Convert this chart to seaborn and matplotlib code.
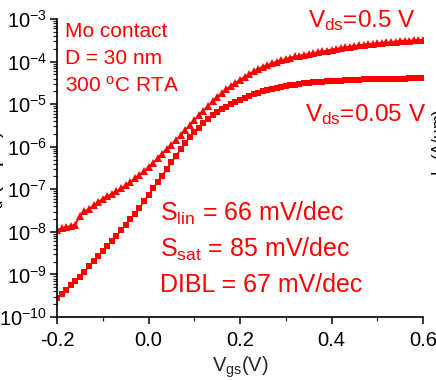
import numpy as np
import pandas as pd
import matplotlib
matplotlib.use("Agg")
import matplotlib.pyplot as plt
import matplotlib.ticker as mticker
import seaborn as sns

# ---- data ----
vgs = [round(-0.20 + 0.01 * i, 2) for i in range(81)]

# log10(I) for Vds = 0.5 V (triangles)
log_id_vds05 = [
    -7.95, -7.92, -7.89, -7.86, -7.83, -7.62, -7.52, -7.46, -7.38, -7.30,
    -7.22, -7.16, -7.10, -7.04, -6.98, -6.91, -6.83, -6.74, -6.66, -6.57,
    -6.48, -6.38, -6.27, -6.16, -6.05, -5.95, -5.85, -5.73, -5.61, -5.50,
    -5.38, -5.26, -5.15, -5.04, -4.93, -4.83, -4.74, -4.65, -4.57, -4.50,
    -4.43, -4.36, -4.29, -4.23, -4.17, -4.12, -4.08, -4.04, -4.00, -3.97,
    -3.94, -3.91, -3.88, -3.86, -3.84, -3.82, -3.80, -3.78, -3.76, -3.74,
    -3.72, -3.70, -3.68, -3.66, -3.65, -3.63, -3.62, -3.60, -3.59, -3.58,
    -3.57, -3.56, -3.55, -3.54, -3.53, -3.52, -3.51, -3.51, -3.50, -3.49,
    -3.49,
]

# log10(I) for Vds = 0.05 V (squares)
log_id_vds005 = [
    -9.55, -9.46, -9.36, -9.25, -9.15, -9.05, -8.94, -8.80, -8.68, -8.57,
    -8.44, -8.33, -8.22, -8.10, -7.96, -7.83, -7.70, -7.58, -7.45, -7.28,
    -7.13, -6.98, -6.83, -6.68, -6.53, -6.37, -6.22, -6.06, -5.91, -5.77,
    -5.66, -5.55, -5.45, -5.35, -5.26, -5.18, -5.12, -5.06, -5.00, -4.95,
    -4.90, -4.85, -4.81, -4.77, -4.73, -4.70, -4.67, -4.64, -4.61, -4.59,
    -4.57, -4.55, -4.54, -4.52, -4.51, -4.50, -4.49, -4.48, -4.47, -4.46,
    -4.46, -4.45, -4.45, -4.44, -4.44, -4.43, -4.43, -4.42, -4.42, -4.42,
    -4.41, -4.41, -4.41, -4.40, -4.40, -4.40, -4.40, -4.39, -4.39, -4.39,
    -4.39,
]

x_ticks = [-0.2, 0.0, 0.2, 0.4, 0.6]
x_tick_labels = ["-0.2", "0.0", "0.2", "0.4", "0.6"]

df = pd.DataFrame({
    "Vgs": vgs * 2,
    "Id": [10 ** v for v in log_id_vds05] + [10 ** v for v in log_id_vds005],
    "Vds": ["0.5"] * len(vgs) + ["0.05"] * len(vgs),
})

# ---- style ----
sns.set_style("ticks")
plt.rcParams["font.family"] = ["Liberation Sans", "DejaVu Sans"]
plt.rcParams["mathtext.fontset"] = "custom"
plt.rcParams["mathtext.rm"] = "Liberation Sans"
plt.rcParams["mathtext.it"] = "Liberation Sans:italic"
plt.rcParams["mathtext.bf"] = "Liberation Sans:bold"

W, H = 436, 380
fig = plt.figure(figsize=(W / 100, H / 100), dpi=100)
ax = fig.add_axes([57 / W, 1 - 317 / H, (423 - 57) / W, (317 - 19) / H])

red = "#FF0000"
sns.lineplot(data=df[df.Vds == "0.5"], x="Vgs", y="Id", ax=ax, color=red,
             marker="^", markersize=6, markeredgewidth=0, linewidth=1.3)
sns.lineplot(data=df[df.Vds == "0.05"], x="Vgs", y="Id", ax=ax, color=red,
             marker="s", markersize=5, markeredgewidth=0, linewidth=1.3)

ax.set_yscale("log")
ax.set_ylim(1e-10, 1e-3)
ax.set_xlim(-0.2, 0.6)
ax.set_xticks(x_ticks)
ax.set_xticklabels(x_tick_labels)
ax.xaxis.set_minor_locator(mticker.MultipleLocator(0.1))
ax.yaxis.set_major_locator(mticker.LogLocator(base=10, numticks=20))
ax.yaxis.set_minor_locator(mticker.LogLocator(base=10, subs=np.arange(2, 10), numticks=20))
ax.yaxis.set_minor_formatter(mticker.NullFormatter())

for s in ["top", "right"]:
    ax.spines[s].set_visible(False)
for s in ["left", "bottom"]:
    ax.spines[s].set_linewidth(1.2)
    ax.spines[s].set_color("black")

ax.tick_params(axis="both", which="major", direction="out", length=5, width=1.1,
               labelsize=14.5, colors="black")
ax.tick_params(axis="both", which="minor", direction="out", length=3, width=0.9)
ax.tick_params(axis="y", which="major", pad=2)
ax.tick_params(axis="x", which="major", pad=5)

ax.set_xlabel(r"V$_\mathregular{gs}$(V)", fontsize=14.5, labelpad=3)
ax.set_ylabel("")

# axis labels that the reference shows cropped at the picture edges
fig.text(6 / W, 1 - 172 / H, r"I$_\mathregular{d}$ (A/μm)", rotation=90,
         ha="right", va="center", fontsize=15, color="black")
fig.text(430 / W, 1 - 142 / H, r"I$_\mathregular{d}$ (A/μm)", rotation=90,
         ha="left", va="center", fontsize=12, color="black")

def ftext(x, y, s, size):
    fig.text(x / W, 1 - y / H, s, ha="left", va="baseline", fontsize=size, color=red)

ftext(65, 37, "Mo contact", 15)
ftext(65, 64, "D = 30 nm", 15)
ftext(65, 92, r"300 $^\mathregular{o}$C RTA", 15)
ftext(308, 27, r"V$_\mathregular{ds}$=0.5 V", 17.5)
ftext(305, 121, r"V$_\mathregular{ds}$=0.05 V", 17.5)
ftext(160, 221, r"S$_\mathregular{lin}$ = 66 mV/dec", 18)
ftext(160, 257, r"S$_\mathregular{sat}$ = 85 mV/dec", 18)
ftext(160, 292, "DIBL = 67 mV/dec", 18)

fig.savefig("out.png", dpi=100)
